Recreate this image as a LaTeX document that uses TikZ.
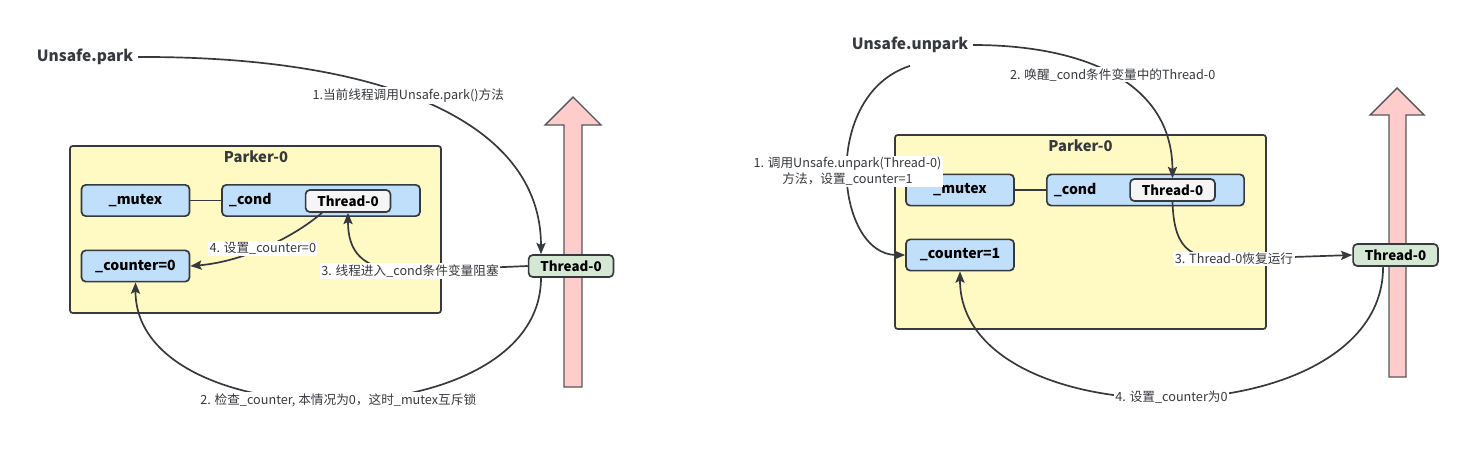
\documentclass[tikz,border=0pt]{standalone}
\usepackage{fontspec}
\setmainfont{Noto Sans CJK SC}
\usetikzlibrary{arrows.meta, calc}
\definecolor{boxblue}{RGB}{191,223,250}
\definecolor{parkeryellow}{RGB}{255,249,196}
\definecolor{threadgreen}{RGB}{213,232,212}
\definecolor{threadgray}{RGB}{245,245,245}
\definecolor{stackpink}{RGB}{255,204,204}
\definecolor{edgegray}{RGB}{54,57,61}

\begin{document}
\begin{tikzpicture}[x=0.025cm, y=-0.025cm,
  title/.style={font=\bfseries\fontsize{11}{13}\selectfont, text=edgegray},
  parker/.style={draw=edgegray, fill=parkeryellow, rounded corners=2pt, line width=1.2pt,
                 minimum width=9.275cm},
  field/.style={draw=edgegray, fill=boxblue, rounded corners=3pt, line width=1.2pt,
                minimum width=2.7cm, minimum height=0.78cm, font=\bfseries\fontsize{10}{12}\selectfont},
  thread/.style={draw=edgegray, rounded corners=3pt, line width=1.2pt, minimum width=2.12cm,
                 minimum height=0.55cm, inner sep=1pt, font=\bfseries\fontsize{9.5}{11}\selectfont},
  stack/.style={draw=edgegray!85, fill=stackpink, line width=1pt},
  lbl/.style={fill=white, inner sep=1pt, align=center, font=\fontsize{9}{11}\selectfont, text=edgegray},
  arr/.style={-{Stealth[length=8pt, width=6.5pt, inset=1.5pt]}, line width=1.2pt, edgegray}
]
\useasboundingbox (0,0) rectangle (1464,469);

% left: Unsafe.park
\draw[stack] (564,387) -- (564,125) -- (545,125) -- (573,97) -- (601,125) -- (582,125) -- (582,387) -- cycle;
\node[title] (park) at (85,57) {Unsafe.park};
\node[parker, minimum height=4.175cm] (pk1) at (255.5,229.5) {};
\node[title, font=\bfseries\fontsize{10.5}{12}\selectfont] (pk1t) at (256,157) {Parker-0};
\node[field] (mutex1) at (135.5,200.5) {\_mutex};
\node[field, minimum width=4.95cm, text width=4.6cm, align=left] (cond1) at (321,200.5) {\_cond};
\node[thread, fill=threadgray] (thr1g) at (348,201) {Thread-0};
\node[field] (counter1) at (135.5,266) {\_counter=0};
\node[thread, fill=threadgreen] (thr1) at (571,266) {Thread-0};

\draw[line width=1.2pt, edgegray] (mutex1) -- (cond1);
\draw[arr] (park.east) .. controls (380,56) and (541,120) .. ([xshift=-0.75cm]thr1.north)
  node[lbl, pos=0.45] {1.当前线程调用Unsafe.park()方法};
\draw[arr] ([xshift=-0.75cm]thr1.south) .. controls (541,440) and (135.5,440) .. (counter1.south)
  node[lbl, pos=0.5] {2. 检查\_counter, 本情况为0，这时\_mutex互斥锁};
\draw[arr] (thr1.west) -- (410,271) node[lbl] {3. 线程进入\_cond条件变量阻塞}
  .. controls (360,271) and (348,250) .. (thr1g.south);
\draw[arr] ([xshift=-0.65cm]thr1g.south) .. controls (290,240) and (240,262) .. (counter1.east)
  node[lbl, pos=0.5] {4. 设置\_counter=0};

% right: Unsafe.unpark
\draw[stack] (1389,377) -- (1389,115) -- (1370,115) -- (1397,88) -- (1424,115) -- (1406,115) -- (1406,377) -- cycle;
\node[title] (unpark) at (910,45) {Unsafe.unpark};
\node[parker, minimum height=4.85cm] (pk2) at (1080.5,232) {};
\node[title, font=\bfseries\fontsize{10.5}{12}\selectfont] (pk2t) at (1080.5,146) {Parker-0};
\node[field] (mutex2) at (960,190) {\_mutex};
\node[field, minimum width=4.93cm, text width=4.58cm, align=left] (cond2) at (1145.5,190) {\_cond};
\node[thread, fill=threadgray] (thr2g) at (1172.5,190) {Thread-0};
\node[field] (counter2) at (960,255) {\_counter=1};
\node[thread, fill=threadgreen] (thr2) at (1395.5,255) {Thread-0};

\draw[line width=1.2pt, edgegray] (mutex2) -- (cond2);
\draw[arr] ([yshift=-0.2cm]unpark.south) .. controls (820,95) and (835,255) .. (counter2.west)
  node[lbl, pos=0.5] {1. 调用Unsafe.unpark(Thread-0)\\方法，设置\_counter=1};
\draw[arr] (unpark.east) .. controls (1080,45) and (1172,80) .. (thr2g.north)
  node[lbl, pos=0.5] {2. 唤醒\_cond条件变量中的Thread-0};
\draw[arr] (thr2g.south) .. controls (1174,255) and (1195,259) .. (1234,259)
  node[lbl] {3. Thread-0恢复运行} -- (thr2.west);
\draw[arr] ([xshift=-0.31cm]thr2.south) .. controls (1383,440) and (960,440) .. (counter2.south)
  node[lbl, pos=0.5] {4. 设置\_counter为0};
\end{tikzpicture}
\end{document}
